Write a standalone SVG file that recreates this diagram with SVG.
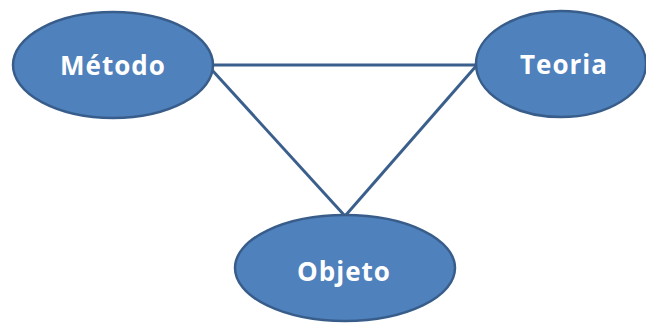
<svg xmlns="http://www.w3.org/2000/svg" width="646" height="324" viewBox="0 0 646 324">
<style>
.n{fill:#4F81BD;stroke:#385D8A;stroke-width:2.5}
.t{fill:#fff;font-family:"Open Sans","Liberation Sans",sans-serif;font-weight:bold;font-size:26px;letter-spacing:1px;text-anchor:middle}
.c{stroke:#3B5F8C;stroke-width:3;fill:none}
</style>
<rect width="646" height="324" fill="#fff"/>
<g id="connectors">
<line class="c" x1="213" y1="65" x2="477" y2="65"/>
<line class="c" x1="212" y1="70" x2="345" y2="216"/>
<line class="c" x1="477" y1="65" x2="345" y2="216"/>
</g>
<g id="metodo">
<ellipse class="n" cx="113" cy="65" rx="100" ry="53"/>
<text class="t" x="113" y="75">Método</text>
</g>
<g id="teoria">
<ellipse class="n" cx="561" cy="64" rx="85" ry="53"/>
<text class="t" x="564" y="74">Teoria</text>
</g>
<g id="objeto">
<ellipse class="n" cx="345" cy="268" rx="110" ry="53"/>
<text class="t" x="344" y="281">Objeto</text>
</g>
</svg>
